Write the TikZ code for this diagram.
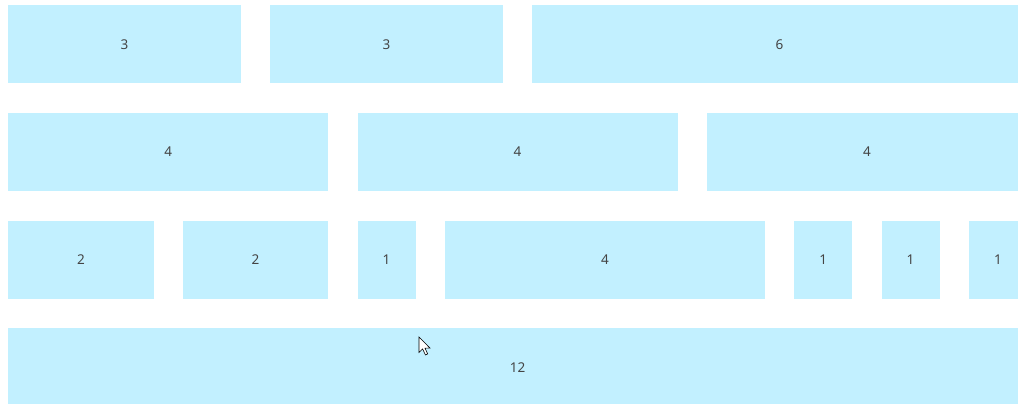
\documentclass[tikz,border=0pt]{standalone}
\usepackage{fontspec}
\setmainfont{Noto Sans}
\usetikzlibrary{positioning}

\definecolor{cellblue}{HTML}{C2F0FF}
\definecolor{digitgray}{HTML}{444444}

\tikzset{
  cell/.style={fill=cellblue, text=digitgray, inner sep=0pt, anchor=north west,
    minimum height=78pt, font=\fontsize{13.5}{15}\selectfont},
  span/.style={cell, minimum width={#1*87.333pt-29.333pt}}
}

\begin{document}
\begin{tikzpicture}[x=1pt, y=-1pt]
  \useasboundingbox (0,0) rectangle (1018,404);
  \clip (0,0) rectangle (1018,404);
  % fila 1
  \node[span=3] (a1) at (8,5) {3};
  \node[span=3] (a2) at (270,5) {3};
  \node[span=6] (a3) at (532,5) {6};
  % fila 2
  \node[span=4] (b1) at (8,112.7) {4};
  \node[span=4] (b2) at (357.3,112.7) {4};
  \node[span=4] (b3) at (706.7,112.7) {4};
  % fila 3
  \node[span=2] (c1) at (8,220.7) {2};
  \node[span=2] (c2) at (182.7,220.7) {2};
  \node[span=1] (c3) at (357.3,220.7) {1};
  \node[span=4] (c4) at (444.7,220.7) {4};
  \node[span=1] (c5) at (794,220.7) {1};
  \node[span=1] (c6) at (881.3,220.7) {1};
  \node[span=1] (c7) at (968.7,220.7) {1};
  % fila 4
  \node[span=12] (d1) at (8,328) {12};
  % puntero del ratón
  \coordinate (M) at (419,337);
  \draw[fill=white, line width=0.6pt, line join=miter]
    (M) -- ++(0,15.5) -- ++(3.6,-3.6) -- ++(2.8,6) -- ++(2.3,-1) -- ++(-2.7,-5.8)
    -- ++(5,0) -- cycle;
\end{tikzpicture}
\end{document}
